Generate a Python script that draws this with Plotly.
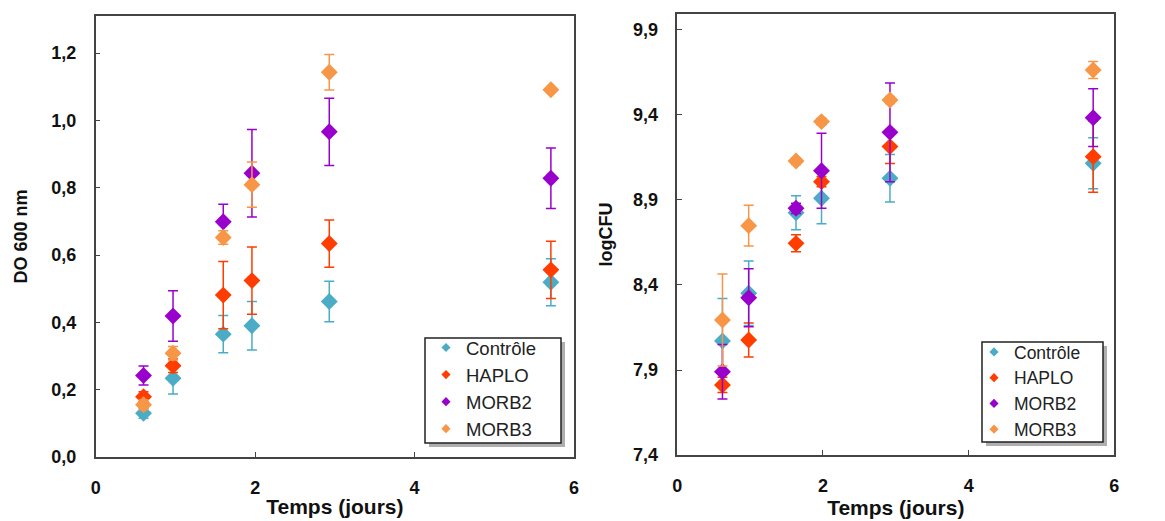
import plotly.graph_objects as go

# ---------------- data ----------------
series = ["Contrôle", "HAPLO", "MORB2", "MORB3"]
colors = ["#4BACC6", "#FF3D00", "#9900CC", "#F79646"]

# Left panel: DO 600 nm
t_do = [0.6, 0.97, 1.6, 1.96, 2.93, 5.71]
do_ctrl = [0.13, 0.234, 0.365, 0.39, 0.462, 0.519]
do_ctrl_err = [0.015, 0.047, 0.055, 0.072, 0.06, 0.07]
do_haplo = [0.179, 0.271, 0.481, 0.524, 0.634, 0.556]
do_haplo_err = [0.015, 0.02, 0.1, 0.1, 0.07, 0.085]
do_morb2 = [0.242, 0.419, 0.699, 0.843, 0.966, 0.828]
do_morb2_err = [0.028, 0.075, 0.052, 0.13, 0.1, 0.09]
do_morb3 = [0.155, 0.308, 0.652, 0.809, 1.143, 1.091]
do_morb3_err = [0.015, 0.02, 0.02, 0.067, 0.053, 0.005]

# Right panel: logCFU
t_cfu = [0.62, 0.98, 1.63, 1.98, 2.92, 5.71]
cfu_ctrl = [8.071, 8.351, 8.825, 8.91, 9.028, 9.116]
cfu_ctrl_err = [0.25, 0.19, 0.1, 0.15, 0.14, 0.15]
cfu_haplo = [7.812, 8.076, 8.645, 9.008, 9.214, 9.155]
cfu_haplo_err = [0.045, 0.1, 0.05, 0.03, 0.1, 0.21]
cfu_morb2 = [7.89, 8.325, 8.851, 9.072, 9.298, 9.384]
cfu_morb2_err = [0.16, 0.17, 0.03, 0.22, 0.29, 0.17]
cfu_morb3 = [8.194, 8.749, 9.129, 9.361, 9.488, 9.665]
cfu_morb3_err = [0.27, 0.12, 0.02, 0.02, 0.02, 0.05]

do_ticks = [0.0, 0.2, 0.4, 0.6, 0.8, 1.0, 1.2]
do_ticktext = ["0,0", "0,2", "0,4", "0,6", "0,8", "1,0", "1,2"]
cfu_ticks = [7.4, 7.9, 8.4, 8.9, 9.4, 9.9]
cfu_ticktext = ["7,4", "7,9", "8,4", "8,9", "9,4", "9,9"]
x_ticks = [0, 2, 4, 6]
x_ticktext = ["0", "2", "4", "6"]

do_vals = [do_ctrl, do_haplo, do_morb2, do_morb3]
do_errs = [do_ctrl_err, do_haplo_err, do_morb2_err, do_morb3_err]
cfu_vals = [cfu_ctrl, cfu_haplo, cfu_morb2, cfu_morb3]
cfu_errs = [cfu_ctrl_err, cfu_haplo_err, cfu_morb2_err, cfu_morb3_err]

FONT = "Arial, Liberation Sans, sans-serif"
W, H = 1165, 521
fig = go.Figure()

for name, col, v, e in zip(series, colors, do_vals, do_errs):
    fig.add_trace(go.Scatter(
        x=t_do, y=v, mode="markers", name=name, showlegend=False,
        marker=dict(symbol="diamond", size=13, color=col),
        error_y=dict(type="data", array=e, color=col, thickness=1.5, width=5),
        xaxis="x", yaxis="y"))
for name, col, v, e in zip(series, colors, cfu_vals, cfu_errs):
    fig.add_trace(go.Scatter(
        x=t_cfu, y=v, mode="markers", name=name, showlegend=False,
        marker=dict(symbol="diamond", size=13, color=col),
        error_y=dict(type="data", array=e, color=col, thickness=1.5, width=5),
        xaxis="x2", yaxis="y2"))

# legend entries (small diamonds as in the reference)
for lg, xa, ya in [("legend", "x", "y"), ("legend2", "x2", "y2")]:
    for name, col in zip(series, colors):
        fig.add_trace(go.Scatter(
            x=[None], y=[None], mode="markers", name=name, legend=lg,
            marker=dict(symbol="diamond", size=7, color=col),
            xaxis=xa, yaxis=ya))

axis_common = dict(
    showline=True, linecolor="#444444", linewidth=1.5, mirror=True,
    ticks="inside", ticklen=5, tickcolor="#444444", tickwidth=1.2,
    showgrid=False, zeroline=False, automargin=False,
    tickfont=dict(family=FONT, size=18, color="#111111", weight="bold"),
)

xtitle = dict(text="Temps (jours)", font=dict(family=FONT, size=21, color="#111111", weight="bold"), standoff=2)

legend_common = dict(bgcolor="rgba(0,0,0,0)", borderwidth=0, tracegroupgap=0,
                     xanchor="left", yanchor="top")

fig.update_layout(
    width=W, height=H, template="none",
    margin=dict(l=0, r=0, t=0, b=0, autoexpand=False),
    paper_bgcolor="white", plot_bgcolor="white",
    xaxis=dict(domain=[95.7 / W, 574 / W], range=[0, 6], tickvals=x_ticks, ticktext=x_ticktext,
               ticklabelstandoff=14, title=xtitle, anchor="y", **axis_common),
    yaxis=dict(domain=[(H - 457) / H, (H - 16) / H], range=[0, 1.31], tickvals=do_ticks, ticktext=do_ticktext,
               ticklabelstandoff=14, anchor="x",
               title=dict(text="DO 600 nm", font=dict(family=FONT, size=18, color="#111111", weight="bold"), standoff=19),
               **axis_common),
    xaxis2=dict(domain=[677.3 / W, 1114.3 / W], range=[0, 6], tickvals=x_ticks, ticktext=x_ticktext,
                ticklabelstandoff=14, title=xtitle, anchor="y2", **axis_common),
    yaxis2=dict(domain=[(H - 455) / H, (H - 14) / H], range=[7.4, 9.994], tickvals=cfu_ticks, ticktext=cfu_ticktext,
                ticklabelstandoff=14, anchor="x2",
                title=dict(text="logCFU", font=dict(family=FONT, size=18, color="#111111", weight="bold"), standoff=16),
                **axis_common),
    legend=dict(x=426 / W, y=(H - 329) / H,
                font=dict(family=FONT, size=18.5, color="#222222"), **legend_common),
    legend2=dict(x=974 / W, y=(H - 334) / H,
                 font=dict(family=FONT, size=17.5, color="#222222"), **legend_common),
)

# legend frames with drop shadows (drawn beneath the transparent legends)
for (x0, y0, x1, y1) in [(425, 338, 561, 443), (982, 342, 1103, 442)]:
    fig.add_shape(type="rect", xref="paper", yref="paper",
                  x0=(x0 + 4) / W, x1=(x1 + 4) / W, y0=(H - y1 - 4) / H, y1=(H - y0 - 4) / H,
                  fillcolor="rgba(110,110,110,0.55)", line=dict(width=0), layer="above")
    fig.add_shape(type="rect", xref="paper", yref="paper",
                  x0=x0 / W, x1=x1 / W, y0=(H - y1) / H, y1=(H - y0) / H,
                  fillcolor="white", line=dict(color="#222222", width=1.5), layer="above")

fig.write_html("out.html", config={"displayModeBar": False},
               post_script="document.body.style.margin='0';document.body.style.overflow='hidden';")
